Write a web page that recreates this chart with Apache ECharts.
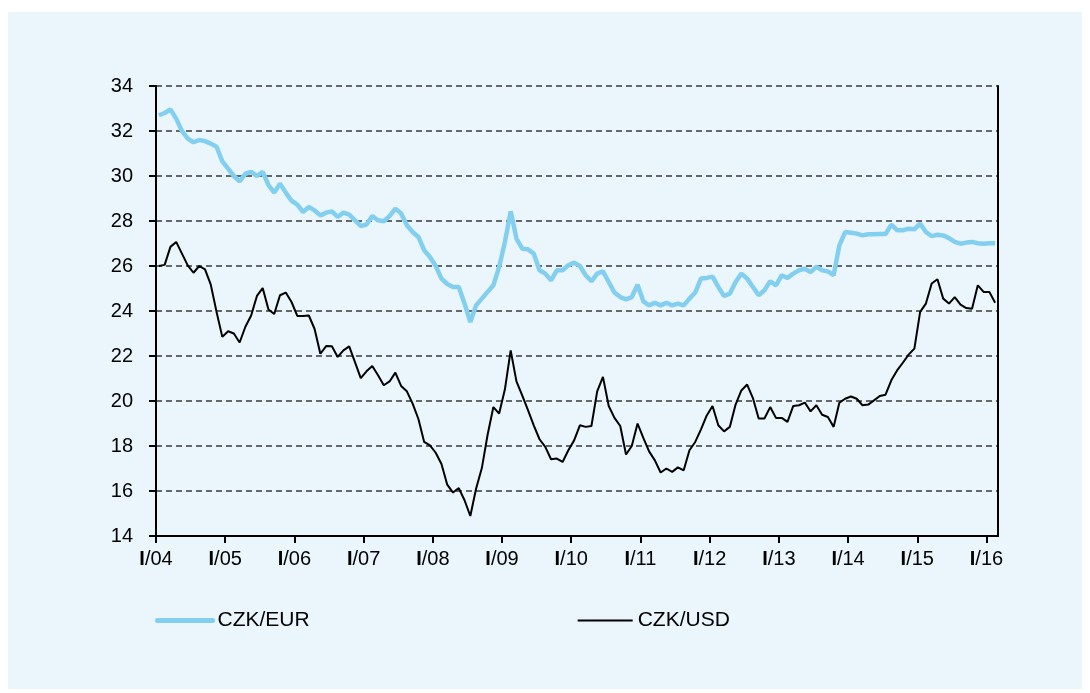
<!DOCTYPE html>
<html>
<head>
<meta charset="utf-8">
<script src="https://cdn.jsdelivr.net/npm/echarts@6/dist/echarts.min.js"></script>
<style>
  html, body { margin: 0; padding: 0; background: #ffffff; }
  #chart-panel { width: 1090px; height: 693px; }
</style>
</head>
<body>
<div id="chart-panel"></div>
<script>
// monthly averages, I/04 .. II/16
var czkEur = [
  32.7, 32.8, 32.96, 32.55, 32.0, 31.66, 31.5, 31.6, 31.55, 31.44, 31.3, 30.65,
  30.33, 30.0, 29.76, 30.1, 30.18, 30.0, 30.18, 29.6, 29.26, 29.66, 29.26, 28.9,
  28.73, 28.4, 28.62, 28.47, 28.25, 28.37, 28.43, 28.18, 28.37, 28.28, 28.03, 27.78,
  27.84, 28.22, 28.03, 27.99, 28.22, 28.55, 28.33, 27.81, 27.51, 27.29, 26.7, 26.4,
  26.0, 25.44, 25.2, 25.07, 25.07, 24.33, 23.51, 24.25, 24.55, 24.85, 25.14, 25.96,
  27.07, 28.43, 27.22, 26.77, 26.74, 26.55, 25.81, 25.66, 25.36, 25.81, 25.81, 26.03,
  26.15, 26.0, 25.59, 25.32, 25.66, 25.76, 25.29, 24.82, 24.62, 24.52, 24.62, 25.17,
  24.43, 24.25, 24.37, 24.25, 24.37, 24.25, 24.33, 24.25, 24.55, 24.82, 25.44, 25.47,
  25.53, 25.07, 24.67, 24.77, 25.29, 25.66, 25.44, 25.07, 24.7, 24.92, 25.32, 25.14,
  25.59, 25.47, 25.66, 25.81, 25.88, 25.73, 25.96, 25.81, 25.76, 25.59, 26.92, 27.51,
  27.48, 27.44, 27.36, 27.41, 27.41, 27.42, 27.42, 27.84, 27.59, 27.59, 27.66, 27.63,
  27.88, 27.51, 27.33, 27.39, 27.36, 27.24, 27.07, 26.99, 27.04, 27.07, 27.01, 26.99,
  27.01, 27.01
];
var czkUsd = [
  26.0, 26.05, 26.85, 27.07, 26.55, 26.03, 25.7, 26.0, 25.85, 25.17, 23.96, 22.85,
  23.1, 23.0, 22.6, 23.3, 23.8, 24.67, 25.02, 24.07, 23.87, 24.7, 24.82, 24.4,
  23.78, 23.78, 23.8, 23.2, 22.1, 22.44, 22.43, 21.96, 22.25, 22.43, 21.73, 21.02,
  21.32, 21.56, 21.14, 20.7, 20.87, 21.26, 20.67, 20.43, 19.88, 19.2, 18.18, 18.03,
  17.7, 17.2, 16.28, 15.93, 16.13, 15.59, 14.89, 16.1, 17.02, 18.5, 19.73, 19.44,
  20.52, 22.25, 20.87, 20.25, 19.59, 18.92, 18.3, 17.96, 17.41, 17.44, 17.29, 17.81,
  18.25, 18.92, 18.85, 18.89, 20.43, 21.07, 19.78, 19.25, 18.89, 17.62, 18.0, 19.0,
  18.36, 17.76, 17.36, 16.82, 17.0, 16.85, 17.05, 16.92, 17.81, 18.18, 18.74, 19.36,
  19.78, 18.92, 18.65, 18.85, 19.84, 20.47, 20.73, 20.13, 19.22, 19.22, 19.73, 19.25,
  19.25, 19.07, 19.78, 19.81, 19.93, 19.54, 19.81, 19.39, 19.29, 18.85, 19.93, 20.1,
  20.2, 20.1, 19.81, 19.84, 20.03, 20.22, 20.28, 20.92, 21.36, 21.7, 22.06, 22.33,
  23.96, 24.33, 25.22, 25.41, 24.55, 24.33, 24.62, 24.28, 24.13, 24.1, 25.14, 24.85,
  24.85, 24.37
];
var tickYears = ['04', '05', '06', '07', '08', '09', '10', '11', '12', '13', '14', '15', '16'];
var seriesNames = ['CZK/EUR', 'CZK/USD'];

// each month sits in the middle of its slot, year ticks on slot boundaries
function toPoints(arr) {
  return arr.map(function (v, i) { return [i + 0.5, v]; });
}
var yearTicks = tickYears.map(function (y, k) { return k * 12; });

var myChart = echarts.init(document.getElementById('chart-panel'));
var font = 'Liberation Sans, Arial, sans-serif';

myChart.setOption({
  backgroundColor: '#ffffff',
  animation: false,
  graphic: [{
    type: 'rect',
    z: -10,
    shape: { x: 8, y: 12, width: 1074, height: 677 },
    style: { fill: '#eaf5fc' }
  }],
  grid: { left: 156, right: 92, top: 86, bottom: 157 },
  legend: {
    data: [
      { name: seriesNames[0], lineStyle: { width: 5, cap: 'round', color: '#82cff0' } },
      { name: seriesNames[1], lineStyle: { width: 2, color: '#000' } }
    ],
    left: 155,
    top: 610,
    padding: 0,
    itemWidth: 55,
    itemHeight: 12,
    itemGap: 267,
    itemStyle: { opacity: 0 },
    textStyle: { fontFamily: font, fontSize: 21, color: '#000' }
  },
  xAxis: {
    type: 'value',
    min: 0,
    max: czkEur.length,
    interval: 12,
    splitLine: { show: false },
    axisLine: { show: true, lineStyle: { color: '#000', width: 2 } },
    axisTick: { show: true, length: 7, customValues: yearTicks, lineStyle: { color: '#000', width: 2 } },
    axisLabel: {
      customValues: yearTicks,
      margin: 13,
      fontFamily: font,
      fontSize: 20,
      color: '#000',
      formatter: function (v) {
        return '{b|I}/' + tickYears[Math.round(v / 12)];
      },
      rich: { b: { fontFamily: font, fontSize: 20, fontWeight: 'bold', color: '#000' } }
    }
  },
  yAxis: [{
    type: 'value',
    min: 14,
    max: 34,
    interval: 2,
    axisLine: { show: true, lineStyle: { color: '#000', width: 2 } },
    axisTick: { show: true, length: 7, lineStyle: { color: '#000', width: 2 } },
    axisLabel: { margin: 23, fontFamily: font, fontSize: 20, color: '#000' },
    splitLine: { show: true, lineStyle: { color: '#3a3a3a', width: 1.5, type: [6, 4] } }
  }, {
    type: 'value',
    position: 'right',
    min: 14,
    max: 34,
    interval: 2,
    axisLine: { show: true, lineStyle: { color: '#000', width: 2 } },
    axisTick: { show: false },
    axisLabel: { show: false },
    splitLine: { show: false }
  }],
  series: [{
    name: seriesNames[0],
    type: 'line',
    data: toPoints(czkEur),
    showSymbol: false,
    symbol: 'none',
    color: '#82cff0',
    lineStyle: { color: '#82cff0', width: 4.5 },
    z: 3
  }, {
    name: seriesNames[1],
    type: 'line',
    data: toPoints(czkUsd),
    showSymbol: false,
    symbol: 'none',
    color: '#000',
    lineStyle: { color: '#000', width: 2 },
    z: 4
  }]
});
</script>
</body>
</html>
